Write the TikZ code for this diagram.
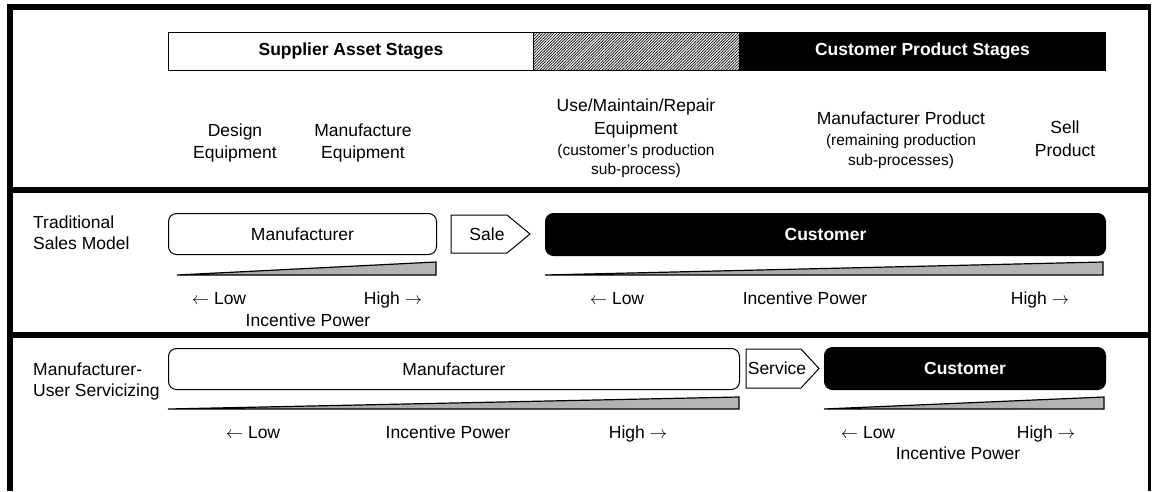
\documentclass[tikz,border=0pt]{standalone}
\usepackage{fontspec}
\setmainfont{Liberation Sans}
\usetikzlibrary{patterns.meta}
% dark at the thin end, light grey towards the tall end
\pgfdeclarehorizontalshading{wedgeshade}{100bp}{color(0bp)=(black); color(30bp)=(black!35); color(100bp)=(black!25)}
\begin{document}
\begin{tikzpicture}[x=1pt,y=-1pt,
  lbl/.style={font=\fontsize{17.5}{21}\selectfont, inner sep=0pt, anchor=base},
  lblsmall/.style={font=\fontsize{15.5}{18}\selectfont, inner sep=0pt, anchor=base},
  lblleft/.style={lbl, anchor=base west},
  headbox/.style={draw=black, line width=1pt, minimum height=38, inner sep=0pt,
    font=\fontsize{17.5}{21}\selectfont\bfseries},
  whitebox/.style={draw=black, line width=1pt, rounded corners=8pt, fill=white,
    inner sep=0pt, font=\fontsize{17.5}{21}\selectfont},
  blackbox/.style={draw=black, line width=1pt, rounded corners=8pt, fill=black,
    text=white, inner sep=0pt, font=\fontsize{17.5}{21}\selectfont\bfseries},
  wedge/.style={draw=black, line width=1.2pt, shading=wedgeshade, line join=miter},
  divider/.style={line width=6pt},
  arrowbox/.style={draw=black, line width=1pt, fill=white, line join=miter}
]
\useasboundingbox (0,0) rectangle (1152,491);

% outer frame (open at the bottom)
\draw[line width=6pt] (10,491) -- (10,7) -- (1151,7);
\draw[line width=3pt] (1149.5,7) -- (1149.5,491);

% section dividers
\draw[divider] (10,189.5) -- (1151,189.5);
\draw[divider] (10,335) -- (1151,335);

% stage bar
\node[headbox, fill=white, minimum width=365, anchor=north west] (sup) at (168,32) {Supplier Asset Stages};
\node[headbox, minimum width=206, anchor=north west,
      fill=black!40, pattern={Lines[angle=45,distance=2pt,line width=0.7pt]}] (mid) at (533,32) {};
\node[headbox, fill=black, text=white, minimum width=366, anchor=north west] (cps) at (739,32) {Customer Product Stages};

% stage labels
\node[lbl] (s1a) at (235,136) {Design};
\node[lbl] (s1b) at (235,158) {Equipment};
\node[lbl] (s2a) at (363,136) {Manufacture};
\node[lbl] (s2b) at (363,158) {Equipment};
\node[lbl] (s3a) at (636,111) {Use/Maintain/Repair};
\node[lbl] (s3b) at (636,134) {Equipment};
\node[lblsmall] (s3c) at (636,155) {(customer’s production};
\node[lblsmall] (s3d) at (636,174) {sub-process)};
\node[lbl] (s4a) at (901,124) {Manufacturer Product};
\node[lblsmall] (s4b) at (901,145) {(remaining production};
\node[lblsmall] (s4c) at (901,165) {sub-processes)};
\node[lbl] (s5a) at (1065,133) {Sell};
\node[lbl] (s5b) at (1065,156) {Product};

% traditional sales model
\node[lblleft] (t1) at (33,228) {Traditional};
\node[lblleft] (t2) at (33,249) {Sales Model};
\node[whitebox, minimum width=268, minimum height=41, anchor=north west] (tm) at (168,213) {Manufacturer};
\draw[arrowbox] (451,215) -- (507,215) -- (530,234) -- (507,253) -- (451,253) -- cycle;
\node[lbl, anchor=center] (sale) at (487,234) {Sale};
\node[blackbox, minimum width=560, minimum height=42, anchor=north west] (tc) at (545,213) {Customer};
\draw[wedge] (177,275) -- (436,262) -- (436,275) -- cycle;
\draw[wedge] (545,275) -- (1103,262) -- (1103,275) -- cycle;
\node[lbl] (tl1) at (219,304) {$\leftarrow$ Low};
\node[lbl] (th1) at (393,304) {High $\rightarrow$};
\node[lbl] (ti1) at (308,326) {Incentive Power};
\node[lbl] (tl2) at (617,304) {$\leftarrow$ Low};
\node[lbl] (ti2) at (805,304) {Incentive Power};
\node[lbl] (th2) at (1040,304) {High $\rightarrow$};

% manufacturer-user servicizing
\node[lblleft] (u1) at (33,375) {Manufacturer-};
\node[lblleft] (u2) at (33,396) {User Servicizing};
\node[whitebox, minimum width=571, minimum height=41, anchor=north west] (um) at (168,348) {Manufacturer};
\draw[arrowbox] (746,349) -- (801,349) -- (819,368.5) -- (801,388) -- (746,388) -- cycle;
\node[lbl, anchor=center] (svc) at (777,368.5) {Service};
\node[blackbox, minimum width=281, minimum height=42, anchor=north west] (uc) at (824,347) {Customer};
\draw[wedge] (168,409) -- (739,397) -- (739,409) -- cycle;
\draw[wedge] (824,409) -- (1104,397) -- (1104,409) -- cycle;
\node[lbl] (ul1) at (253,438) {$\leftarrow$ Low};
\node[lbl] (ui1) at (448,438) {Incentive Power};
\node[lbl] (uh1) at (638,438) {High $\rightarrow$};
\node[lbl] (ul2) at (868,438) {$\leftarrow$ Low};
\node[lbl] (uh2) at (1046,438) {High $\rightarrow$};
\node[lbl] (ui2) at (958,459) {Incentive Power};
\end{tikzpicture}
\end{document}
